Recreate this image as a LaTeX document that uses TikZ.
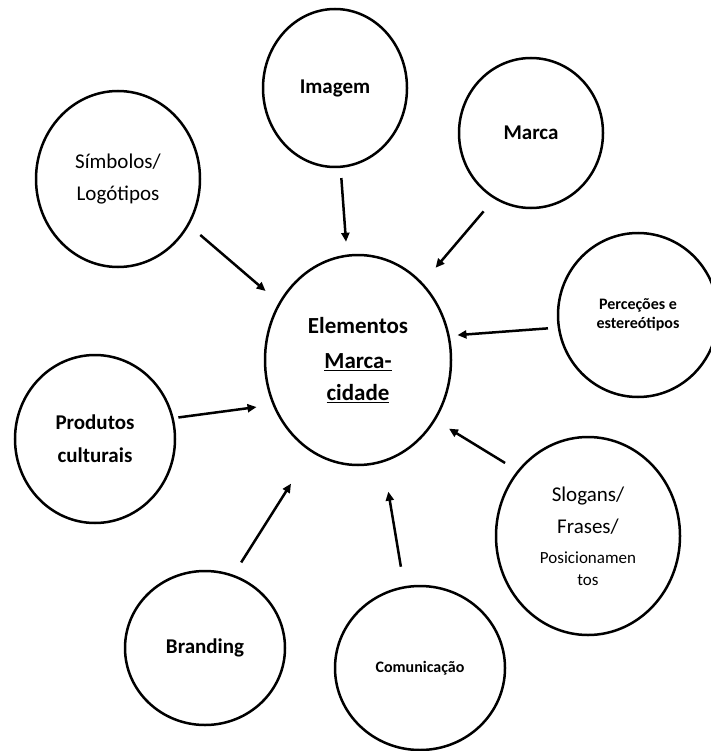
\documentclass[tikz,border=0pt]{standalone}
\usepackage{fontspec}
\setmainfont{Carlito}
\usetikzlibrary{shapes.geometric}
\usetikzlibrary{arrows.meta}

\begin{document}
\begin{tikzpicture}[x=1pt,y=-1pt,
		bubble/.style={draw=black,line width=2.5pt,ellipse,inner sep=0pt,outer sep=0pt,align=center},
		link/.style={black,line width=2.5pt,-{Triangle[length=9pt,width=8pt]}}]
			\useasboundingbox (0,0) rectangle (710,751);

			\node[bubble,minimum width=186pt,minimum height=210pt,font=\bfseries\fontsize{23}{32}\selectfont] (elementos) at (358,360) {Elementos\\[3pt]\underline{Marca-}\\\underline{cidade}};

			\node[bubble,minimum width=164pt,minimum height=176pt,font=\fontsize{21}{32}\selectfont] (simbolos) at (118,179) {Símbolos/\\Logótipos};
			\node[bubble,minimum width=144pt,minimum height=158pt,font=\bfseries\fontsize{21}{25}\selectfont] (imagem) at (335,88) {Imagem};
			\node[bubble,minimum width=144pt,minimum height=150pt,font=\bfseries\fontsize{21}{25}\selectfont] (marca) at (531,133) {Marca};
			\node[bubble,minimum width=160pt,minimum height=164pt,font=\bfseries\fontsize{16}{19}\selectfont] (percecoes) at (638,315) {Perceções e\\estereótipos};
			\node[bubble,minimum width=184pt,minimum height=198pt,font=\fontsize{21}{22}\selectfont] (slogans) at (588,536) {Slogans/\\[10pt]Frases/\\[8pt]\fontsize{17}{22}\selectfont Posicionamen\\\fontsize{17}{22}\selectfont tos};
			\node[bubble,minimum width=160pt,minimum height=168pt,font=\bfseries\fontsize{21}{33}\selectfont] (produtos) at (95,439) {Produtos\\culturais};
			\node[bubble,minimum width=160pt,minimum height=154pt,font=\bfseries\fontsize{21}{25}\selectfont] (branding) at (205,648) {Branding};
			\node[bubble,minimum width=170pt,minimum height=164pt,font=\bfseries\fontsize{16}{19}\selectfont] (comunicacao) at (420,668) {Comunicação};

			\draw[link,shorten <=16pt,shorten >=18.7pt] (simbolos.-33.6) -- (elementos.144.7);
			\draw[link,shorten <=11.3pt,shorten >=14pt] (imagem.-86.1) -- (elementos.96.6);
			\draw[link,shorten <=17.6pt,shorten >=21pt] (marca.-119.5) -- (elementos.50.6);
			\draw[link,shorten <=11pt,shorten >=9pt] (percecoes.-171.1) -- (elementos.15.7);
			\draw[link,shorten <=15.7pt,shorten >=17pt] (slogans.137) -- (elementos.-38.2);
			\draw[link,shorten <=21pt,shorten >=31pt] (comunicacao.101.7) -- (elementos.-76.1);
			\draw[link,shorten <=15.8pt,shorten >=38.6pt] (branding.69.9) -- (elementos.-117.6);
			\draw[link,shorten <=5.9pt,shorten >=17.5pt] (produtos.15.4) -- (elementos.-152.8);
		\end{tikzpicture}
\end{document}
